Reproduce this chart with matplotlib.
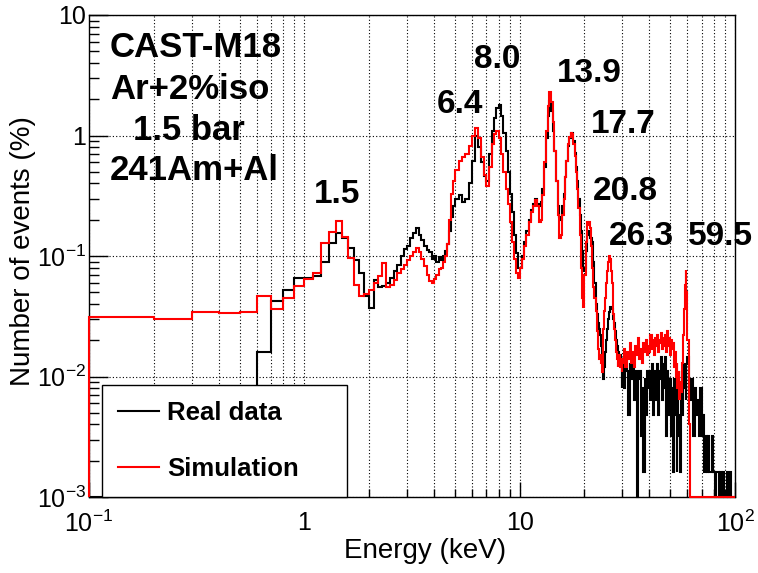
import numpy as np
import matplotlib.pyplot as plt
from matplotlib.lines import Line2D
from matplotlib.ticker import LogLocator, NullFormatter

plt.rcParams['font.family'] = 'Liberation Sans'
plt.rcParams['mathtext.fontset'] = 'custom'
plt.rcParams['mathtext.rm'] = 'Liberation Sans'
plt.rcParams['mathtext.it'] = 'Liberation Sans:italic'
plt.rcParams['mathtext.bf'] = 'Liberation Sans:bold'

# histogram binning: (first edge keV, bin width keV, number of bins)
bin_segments = [(0.1, 0.1, 49), (5.0, 0.2, 25), (10.0, 0.25, 80), (30.0, 0.5, 60), (60.0, 1.0, 40)]

# Real data, number of events (%)
real_lo = [0, 0, 0, 0, 0, 0.016, 0.042, 0.052, 0.066, 0.066,
           0.068, 0.090, 0.127, 0.154, 0.140, 0.116, 0.093, 0.072, 0.047, 0.037,
           0.063, 0.055, 0.056, 0.060, 0.066, 0.075, 0.085, 0.100, 0.115, 0.120,
           0.140, 0.155, 0.170, 0.150, 0.135, 0.120, 0.112, 0.108, 0.095, 0.100,
           0.090, 0.098, 0.092, 0.100, 0.110, 0.125, 0.160, 0.210, 0.260]
real_mid = [0.30, 0.32, 0.28, 0.30, 0.40, 0.62, 1.00, 0.80, 0.60, 0.46,
            0.42, 0.70, 1.10, 1.40, 1.70, 1.78, 1.45, 1.05, 0.75, 0.50,
            0.33, 0.23, 0.15, 0.105, 0.080]
real_peaks = [0.080, 0.10, 0.13, 0.16, 0.20, 0.24, 0.27, 0.30, 0.27, 0.26,
              0.28, 0.36, 0.55, 0.95, 1.45, 1.95, 1.60, 1.10, 0.75, 0.42,
              0.26, 0.21, 0.20, 0.26, 0.33, 0.45, 0.62, 0.82, 0.96, 1.05,
              1.05, 0.90, 0.72, 0.55, 0.42, 0.30, 0.22, 0.16, 0.11, 0.075,
              0.080, 0.11, 0.15, 0.16, 0.15, 0.14, 0.14, 0.13, 0.09, 0.060,
              0.040, 0.033, 0.028, 0.025, 0.022, 0.018, 0.014, 0.011, 0.0096, 0.012,
              0.016, 0.020, 0.025, 0.030, 0.034, 0.038, 0.038, 0.036, 0.032, 0.030,
              0.028, 0.024, 0.020, 0.018, 0.016, 0.016, 0.014, 0.015, 0.012, 0.008]
real_tail = [0.0128, 0.0080, 0.0144, 0.0112, 0.0048, 0.0128, 0.0096, 0.0144, 0.0064, 0.0112,
             0, 0.0096, 0.0112, 0.0032, 0.0080, 0.0016, 0.0096, 0.0048, 0.0112, 0.0080,
             0.0112, 0.0064, 0.0128, 0.0048, 0.0096, 0.0112, 0.0064, 0.0128, 0.0048, 0.0096,
             0.0112, 0.0144, 0.0064, 0.0128, 0.0080, 0.0144, 0.0032, 0.0112, 0.0096, 0.0048,
             0.0096, 0.0032, 0.0080, 0.0016, 0.0096, 0.0048, 0.0080, 0.0016, 0.0064, 0.0032,
             0.0048, 0.0016, 0.0064, 0.0112, 0.0048, 0.0128, 0.0080, 0.0112, 0.0064, 0.0128]
real_end = [0.0144, 0.0096, 0.0064, 0.0096, 0.0032, 0.0080, 0.0048, 0.0064, 0.0032, 0.0080,
            0.0032, 0.0048, 0.0016, 0.0032, 0.0016, 0.0032, 0.0016, 0.0016, 0.0032, 0.0016,
            0.0016, 0, 0.0016, 0.0016, 0, 0.0016, 0.0016, 0, 0.0016, 0,
            0, 0, 0.0016, 0, 0, 0.0016, 0, 0, 0, 0]

# Simulation, number of events (%)
sim_lo = [0.031, 0.030, 0.0345, 0.0334, 0.034, 0.047, 0.036, 0.045, 0.056, 0.065,
          0.072, 0.127, 0.159, 0.196, 0.145, 0.096, 0.057, 0.047, 0.048, 0.052,
          0.060, 0.068, 0.087, 0.055, 0.058, 0.063, 0.072, 0.078, 0.085, 0.092,
          0.100, 0.108, 0.116, 0.108, 0.095, 0.083, 0.070, 0.062, 0.060, 0.064,
          0.070, 0.078, 0.080, 0.090, 0.100, 0.125, 0.200, 0.330, 0.420]
sim_mid = [0.52, 0.62, 0.66, 0.70, 0.82, 1.00, 1.15, 0.95, 0.66, 0.47,
           0.38, 0.55, 0.85, 1.02, 1.08, 0.95, 0.70, 0.50, 0.36, 0.27,
           0.19, 0.13, 0.095, 0.072, 0.066]
sim_peaks = [0.080, 0.095, 0.12, 0.15, 0.19, 0.23, 0.26, 0.29, 0.26, 0.19,
             0.20, 0.32, 0.60, 1.10, 1.75, 2.30, 1.90, 1.30, 0.75, 0.42,
             0.22, 0.14, 0.15, 0.22, 0.30, 0.45, 0.62, 0.85, 0.98, 1.05,
             1.02, 0.85, 0.68, 0.50, 0.36, 0.25, 0.15, 0.080, 0.045, 0.038,
             0.070, 0.13, 0.19, 0.18, 0.19, 0.17, 0.12, 0.080, 0.055, 0.045,
             0.035, 0.024, 0.017, 0.014, 0.015, 0.013, 0.011, 0.016, 0.025, 0.035,
             0.045, 0.060, 0.075, 0.090, 0.100, 0.095, 0.075, 0.060, 0.045, 0.033,
             0.025, 0.020, 0.016, 0.014, 0.012, 0.013, 0.015, 0.012, 0.014, 0.011]
sim_tail = [0.013, 0.017, 0.012, 0.016, 0.014, 0.019, 0.013, 0.016, 0.012, 0.018,
            0.015, 0.021, 0.014, 0.017, 0.013, 0.019, 0.016, 0.020, 0.015, 0.018,
            0.016, 0.022, 0.017, 0.020, 0.015, 0.021, 0.018, 0.022, 0.016, 0.020,
            0.019, 0.023, 0.017, 0.021, 0.018, 0.022, 0.016, 0.024, 0.018, 0.021,
            0.015, 0.020, 0.017, 0.019, 0.012, 0.016, 0.010, 0.013, 0.008, 0.011,
            0.0065, 0.009, 0.0075, 0.010, 0.013, 0.022, 0.036, 0.058, 0.077, 0.050]
sim_end = [0.020, 0.004] + [0] * 38

peak_labels = ['1.5', '6.4', '8.0', '13.9', '17.7', '20.8', '26.3', '59.5']
info_lines = ['CAST-M18', 'Ar+2%iso', '1.5 bar', '241Am+Al']

edges = [0.1]
for start, width, n in bin_segments:
    edges += list(np.round(start + width * np.arange(1, n + 1), 3))
edges = np.array(edges)
real = np.array(real_lo + real_mid + real_peaks + real_tail + real_end)
sim = np.array(sim_lo + sim_mid + sim_peaks + sim_tail + sim_end)

W, H = 758, 573
fig = plt.figure(figsize=(W / 100, H / 100), dpi=100)
ax = fig.add_axes([89 / W, 1 - 497 / H, 646 / W, 482 / H])
ax.set_xscale('log')
ax.set_yscale('log')

ymin = 1e-3
# empty bins sit on the bottom of the frame, as in ROOT
ax.stairs(np.clip(real, ymin, None), edges, baseline=ymin, color='black', lw=1.5, zorder=3, clip_on=False)
ax.stairs(np.clip(sim, ymin, None), edges, baseline=ymin, color='red', lw=1.5, zorder=3.1, clip_on=False)

ax.set_xlim(0.1, 100)
ax.set_ylim(ymin, 10)

ax.set_xticks([0.1, 1, 10, 100], labels=[r'$10^{-1}$', '1', '10', r'$10^{2}$'])
ax.set_yticks([1e-3, 1e-2, 1e-1, 1, 10], labels=[r'$10^{-3}$', r'$10^{-2}$', r'$10^{-1}$', '1', '10'])
for axis in (ax.xaxis, ax.yaxis):
    axis.set_minor_locator(LogLocator(base=10, subs=np.arange(2, 10)))
    axis.set_minor_formatter(NullFormatter())
ax.tick_params(which='both', direction='in', top=False, right=False, width=1, labelsize=18)
ax.tick_params(axis='x', which='major', length=10.5, pad=10)
ax.tick_params(axis='x', which='minor', length=5.5)
ax.tick_params(axis='y', which='major', length=13.5, pad=2)
ax.tick_params(axis='y', which='minor', length=7)

ax.grid(True, which='both', axis='x', linestyle=(0, (1, 2)), color='black', lw=0.8)
ax.grid(True, which='major', axis='y', linestyle=(0, (1, 2)), color='black', lw=0.8)
for sp in ax.spines.values():
    sp.set_linewidth(1.0)

ax.set_xlabel('Energy (keV)', fontsize=20)
ax.xaxis.set_label_coords(0.52, -0.085)
ax.set_ylabel('Number of events (%)', fontsize=20)
ax.yaxis.set_label_coords(-0.082, 0.51)

handles = [Line2D([], [], color='black', lw=1.5), Line2D([], [], color='red', lw=1.5)]
leg = ax.legend(handles, ['Real data', 'Simulation'], loc='lower left',
                bbox_to_anchor=(13 / 646, 0, 245 / 646, 0.2), mode='expand',
                fancybox=False, edgecolor='black', framealpha=1, borderaxespad=0,
                prop={'weight': 'bold', 'size': 18.5}, handlelength=1.6,
                handletextpad=0.3, labelspacing=1.25, borderpad=0.62)
leg.get_frame().set_linewidth(1.0)

# peak energies (keV), placed next to each line
label_px = [(337, 203), (460, 113), (497, 68), (589, 82), (623, 133), (625, 200), (641, 245), (720, 245)]
for s, (x, y) in zip(peak_labels, label_px):
    fig.text(x / W, 1 - y / H, s, ha='center', va='baseline', fontsize=24, weight='bold')

info_px = [(110, 57), (110, 99), (133, 140), (110, 180)]
for s, (x, y) in zip(info_lines, info_px):
    fig.text(x / W, 1 - y / H, s, ha='left', va='baseline', fontsize=25, weight='bold')

fig.savefig('out.png', dpi=100)
